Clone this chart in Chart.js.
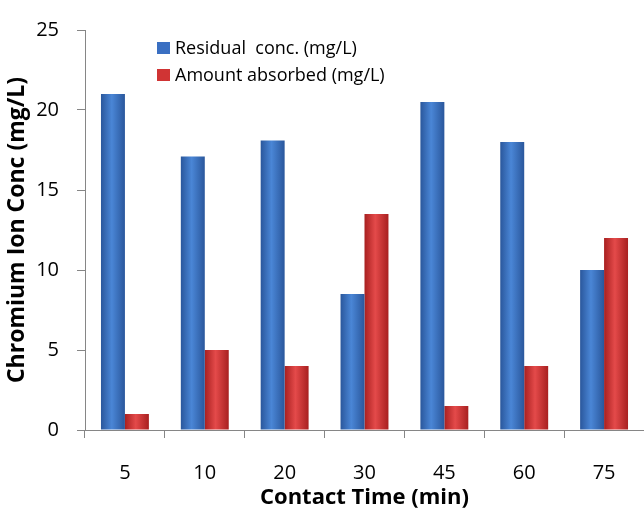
<!DOCTYPE html>
<html>
<head>
<meta charset="utf-8">
<script src="https://cdn.jsdelivr.net/npm/chart.js@4.4.1/dist/chart.umd.min.js"></script>
<style>
  html, body { margin: 0; padding: 0; background: #fff; }
  #wrap { width: 644px; height: 514px; position: relative; }
</style>
</head>
<body>
<div id="wrap"><canvas id="c" width="644" height="514"></canvas></div>
<script>
const categories = ['5', '10', '20', '30', '45', '60', '75'];
const residualConc = [21, 17.1, 18.1, 8.5, 20.5, 18, 10];
const amountAbsorbed = [1, 5, 4, 13.5, 1.5, 4, 12];
const seriesNames = ['Residual  conc. (mg/L)', 'Amount absorbed (mg/L)'];
const yTicks = [0, 5, 10, 15, 20, 25];
const xTitle = 'Contact Time (min)';
const yTitle = 'Chromium Ion Conc (mg/L)';

const palettes = [
  { edge: '#2a579c', mid: '#4a86d6', solid: '#3a6fc2' },
  { edge: '#a82020', mid: '#e44a4a', solid: '#d03434' }
];
const CAT_PCT = 0.6;

function barFill(pal) {
  return function (ctx) {
    const chart = ctx.chart;
    const xs = chart.scales && chart.scales.x;
    if (ctx.type !== 'data' || !xs || !isFinite(xs.width) || xs.width <= 0) return pal.solid;
    const center = xs.getPixelForValue(ctx.dataIndex);
    const bw = (xs.width / categories.length) * CAT_PCT / 2;
    const left = center + (ctx.datasetIndex - 1) * bw;
    const g = chart.ctx.createLinearGradient(left, 0, left + bw, 0);
    g.addColorStop(0, pal.edge);
    g.addColorStop(0.45, pal.mid);
    g.addColorStop(1, pal.edge);
    return g;
  };
}

const legendPlugin = {
  id: 'customLegend',
  afterDraw(chart) {
    const ctx = chart.ctx;
    ctx.save();
    ctx.font = '18px "Open Sans"';
    ctx.textBaseline = 'middle';
    ctx.textAlign = 'left';
    chart.data.datasets.forEach((ds, i) => {
      const y = 48 + i * 27;
      ctx.fillStyle = palettes[i].solid;
      ctx.fillRect(157, y - 6, 13, 12);
      ctx.fillStyle = '#000';
      ctx.fillText(ds.label, 175, y + 1);
    });
    ctx.restore();
  }
};

new Chart(document.getElementById('c'), {
  type: 'bar',
  data: {
    labels: categories,
    datasets: [
      { label: seriesNames[0], data: residualConc, backgroundColor: barFill(palettes[0]), borderWidth: 0 },
      { label: seriesNames[1], data: amountAbsorbed, backgroundColor: barFill(palettes[1]), borderWidth: 0 }
    ]
  },
  options: {
    responsive: false,
    animation: false,
    devicePixelRatio: 1,
    layout: { padding: { top: 22, right: 0, bottom: 0, left: 0 } },
    datasets: { bar: { categoryPercentage: CAT_PCT, barPercentage: 1 } },
    plugins: { legend: { display: false }, tooltip: { enabled: false } },
    scales: {
      x: {
        offset: true,
        grid: { offset: true, drawOnChartArea: false, drawTicks: true, tickLength: 8, color: '#868686' },
        border: { display: true, color: '#868686', width: 1 },
        ticks: { padding: 23, color: '#000', font: { family: 'Open Sans', size: 20 } },
        title: { display: true, text: xTitle, color: '#000', font: { family: 'Open Sans', size: 22, weight: 'bold' }, padding: { top: 0, bottom: 3 } },
        afterFit(scale) { scale.height = 84; }
      },
      y: {
        min: 0, max: 25,
        afterBuildTicks(scale) { scale.ticks = yTicks.map(v => ({ value: v })); },
        grid: { drawOnChartArea: false, drawTicks: true, tickLength: 8, color: '#868686' },
        border: { display: true, color: '#868686', width: 1 },
        ticks: { padding: 18, color: '#000', font: { family: 'Open Sans', size: 20 } },
        title: { display: true, text: yTitle, color: '#000', font: { family: 'Open Sans', size: 23, weight: 'bold' }, padding: { top: 4, bottom: 0 } },
        afterFit(scale) { scale.width = 85; }
      }
    }
  },
  plugins: [legendPlugin]
});
</script>
</body>
</html>
